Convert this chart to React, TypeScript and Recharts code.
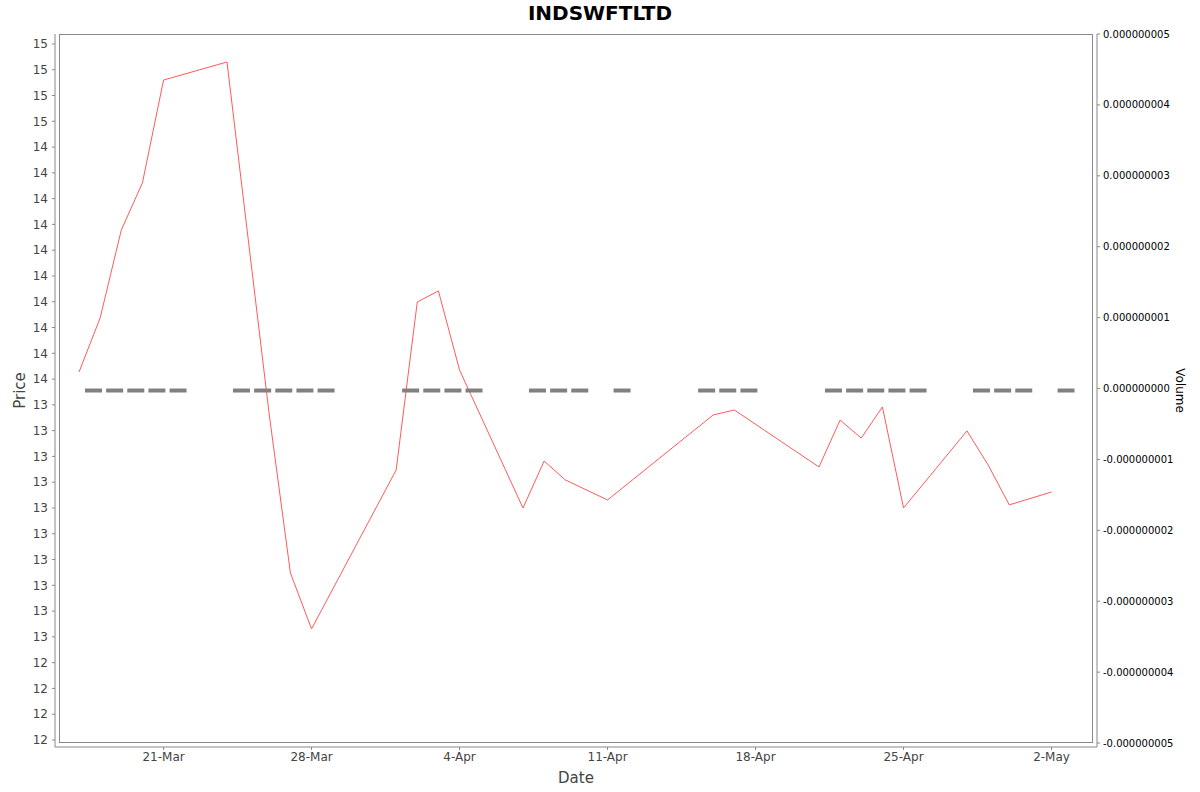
import React from "react";
import { ComposedChart, Line, Scatter, XAxis, YAxis } from "recharts";

const START = Date.UTC(2014, 2, 17);
const MONTHS = ["Jan", "Feb", "Mar", "Apr", "May", "Jun", "Jul", "Aug", "Sep", "Oct", "Nov", "Dec"];

const dates = [
  "2014-03-17", "2014-03-18", "2014-03-19", "2014-03-20", "2014-03-21",
  "2014-03-24", "2014-03-25", "2014-03-26", "2014-03-27", "2014-03-28",
  "2014-04-01", "2014-04-02", "2014-04-03", "2014-04-04",
  "2014-04-07", "2014-04-08", "2014-04-09", "2014-04-11",
  "2014-04-15", "2014-04-16", "2014-04-17",
  "2014-04-21", "2014-04-22", "2014-04-23", "2014-04-24", "2014-04-25",
  "2014-04-28", "2014-04-29", "2014-04-30", "2014-05-02",
];

const prices = [
  13.627, 13.837, 14.178, 14.361, 14.76,
  14.83, 14.145, 13.461, 12.848, 12.631,
  13.247, 13.899, 13.942, 13.635,
  13.1, 13.282, 13.209, 13.131,
  13.395, 13.461, 13.48,
  13.259, 13.441, 13.371, 13.492, 13.1,
  13.399, 13.267, 13.112, 13.162,
];

const volumes = [
  0, 0, 0, 0, 0,
  0, 0, 0, 0, 0,
  0, 0, 0, 0,
  0, 0, 0, 0,
  0, 0, 0,
  0, 0, 0, 0, 0,
  0, 0, 0, 0,
];

const dateTicks = ["2014-03-21", "2014-03-28", "2014-04-04", "2014-04-11", "2014-04-18", "2014-04-25", "2014-05-02"];

const priceTicks = [
  12.2, 12.3, 12.4, 12.5, 12.6, 12.7, 12.8, 12.9, 13.0, 13.1,
  13.2, 13.3, 13.4, 13.5, 13.6, 13.7, 13.8, 13.9, 14.0, 14.1,
  14.2, 14.3, 14.4, 14.5, 14.6, 14.7, 14.8, 14.9,
];

const volumeTicks = [-5e-9, -4e-9, -3e-9, -2e-9, -1e-9, 0, 1e-9, 2e-9, 3e-9, 4e-9, 5e-9];

const toDay = (iso: string) => {
  const [y, m, d] = iso.split("-").map(Number);
  return Math.round((Date.UTC(y, m - 1, d) - START) / 86400000);
};

const fmtDay = (day: number) => {
  const dt = new Date(START + day * 86400000);
  return `${dt.getUTCDate()}-${MONTHS[dt.getUTCMonth()]}`;
};

const data = dates.map((d, i) => ({ day: toDay(d), price: prices[i], volume: volumes[i] }));

const FONT = "'DejaVu Sans', sans-serif";

// zero-height volume bars show up as short flat dashes
const VolumeDash = (props: any) => {
  const { cx, cy } = props;
  if (cx == null || cy == null) return null;
  return <rect x={cx + 6} y={cy} width={17} height={4} fill="#808080" />;
};

export default function App() {
  return (
    <div style={{ position: "absolute", left: 0, top: 0, width: 1200, height: 792, background: "#fff", fontFamily: FONT }}>
      <div
        style={{
          position: "absolute",
          left: 0,
          top: 0,
          width: 1200,
          textAlign: "center",
          fontWeight: "bold",
          fontSize: 20,
          lineHeight: "26px",
          color: "#000",
        }}
      >
        INDSWFTLTD
      </div>
      <ComposedChart
        width={1200}
        height={792}
        data={data}
        margin={{ top: 34, right: 0, bottom: 0, left: 0 }}
        style={{ fontFamily: FONT }}
      >
        <XAxis
          type="number"
          dataKey="day"
          domain={[-1.135, 48.15]}
          allowDataOverflow
          ticks={dateTicks.map(toDay)}
          tickFormatter={fmtDay}
          height={45}
          stroke="#888"
          tickSize={3}
          tickMargin={2}
          tick={{ fill: "#444", fontSize: 12 }}
          label={{ value: "Date", position: "insideBottom", offset: 9, fill: "#444", fontSize: 15 }}
        />
        <YAxis
          yAxisId="price"
          domain={[12.1728, 14.9386]}
          allowDataOverflow
          ticks={priceTicks}
          interval={0}
          tickFormatter={(v: number) => String(Math.ceil(v - 0.5))}
          width={55}
          stroke="#888"
          tickSize={3}
          tickMargin={4}
          tick={{ fill: "#444", fontSize: 12 }}
          label={{ value: "Price", angle: -90, position: "center", dx: -8, fill: "#444", fontSize: 15 }}
        />
        <YAxis
          yAxisId="vol"
          orientation="right"
          domain={[-5.056e-9, 5e-9]}
          allowDataOverflow
          ticks={volumeTicks}
          interval={0}
          tickFormatter={(v: number) => v.toFixed(9)}
          width={103}
          stroke="#888"
          tickSize={3}
          tickMargin={3}
          tick={{ fill: "#000", fontSize: 10 }}
          label={{ value: "Volume", angle: 90, position: "center", dx: 32, fill: "#000", fontSize: 12 }}
        />
        <Scatter
          yAxisId="vol"
          dataKey="volume"
          shape={<VolumeDash />}
          isAnimationActive={false}
        />
        <Line
          yAxisId="price"
          type="linear"
          dataKey="price"
          stroke="#FF5a5a"
          strokeWidth={1}
          dot={false}
          activeDot={false}
          isAnimationActive={false}
        />
      </ComposedChart>
      <div
        style={{
          position: "absolute",
          left: 59,
          top: 34,
          width: 1034,
          height: 709,
          border: "1px solid #888",
          boxSizing: "border-box",
          pointerEvents: "none",
        }}
      />
    </div>
  );
}
